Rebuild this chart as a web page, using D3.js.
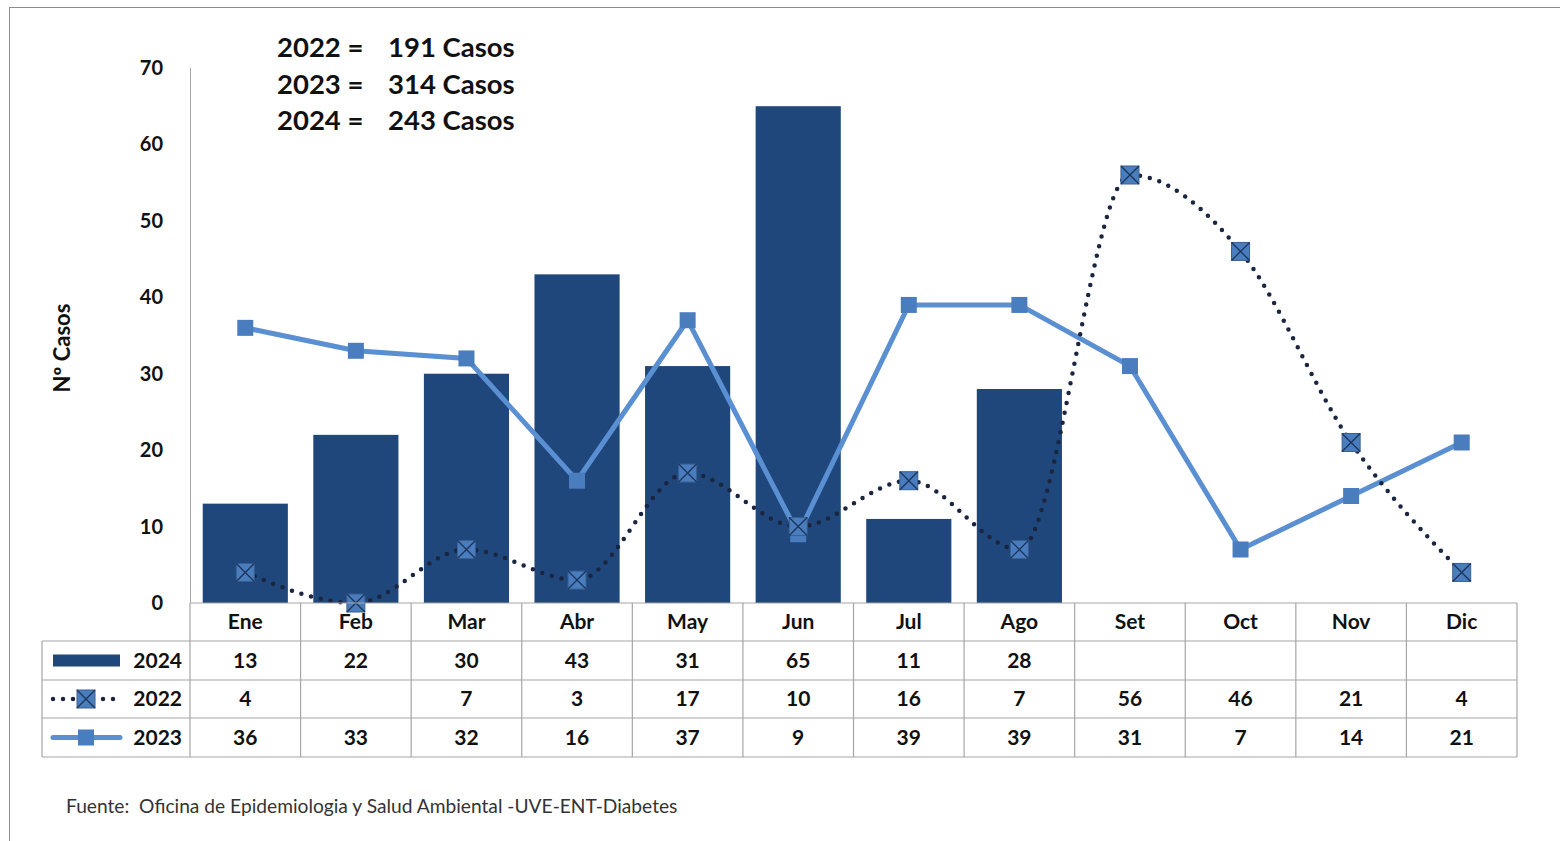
<!DOCTYPE html>
<html><head><meta charset="utf-8">
<script src="https://cdn.jsdelivr.net/npm/d3@7"></script>
<style>body{margin:0;background:#fff;}svg{display:block;font-family:Lato,"Open Sans",sans-serif;}text{white-space:pre;}</style>
</head><body>
<svg id="c" width="1560" height="841"></svg>
<script>
const months = ["Ene","Feb","Mar","Abr","May","Jun","Jul","Ago","Set","Oct","Nov","Dic"];
const v2024 = [13,22,30,43,31,65,11,28,null,null,null,null];
const v2022 = [4,0,7,3,17,10,16,7,56,46,21,4];
const v2022Labels = ["4","","7","3","17","10","16","7","56","46","21","4"];
const v2023 = [36,33,32,16,37,9,39,39,31,7,14,21];
const yTicks = [0,10,20,30,40,50,60,70];
const totals = [["2022 =","191 Casos"],["2023 =","314 Casos"],["2024 =","243 Casos"]];
const source = "Fuente:  Oficina de Epidemiologia y Salud Ambiental -UVE-ENT-Diabetes";

const svg = d3.select("#c");
const barColor = "#1f477b", c2023 = "#5a8fd2", mk = "#4a7dbd", dotC = "#1a2540", grid = "#a6a6a6";
const x0 = 190, x1 = 1517, yTop = 68, yBot = 603;
const x = d3.scaleBand().domain(months).range([x0, x1]).paddingInner(0.23).paddingOuter(0.115);
const xc = m => x(m) + x.bandwidth()/2;
const y = d3.scaleLinear().domain([0,70]).range([yBot, yTop]);

// frame
svg.append("rect").attr("x",9.5).attr("y",7.5).attr("width",1560).attr("height",840).attr("fill","none").attr("stroke","#8c8c8c").attr("stroke-width",1);

// y axis
svg.append("line").attr("x1",x0+0.5).attr("x2",x0+0.5).attr("y1",y(70)).attr("y2",yBot).attr("stroke",grid);
svg.selectAll(".yt").data(yTicks).join("text").attr("x",163).attr("y",d=>y(d)).attr("dy","0.35em")
  .attr("text-anchor","end").attr("font-size",20).attr("font-weight","bold").attr("fill","#111").text(d=>d);
svg.append("text").attr("transform",`translate(70,348) rotate(-90)`).attr("text-anchor","middle")
  .attr("font-size",22).attr("font-weight","bold").attr("fill","#111").text("Nº Casos");

// bars
svg.selectAll(".bar").data(months.map((m,i)=>({m,v:v2024[i]})).filter(d=>d.v!=null)).join("rect")
  .attr("x",d=>x(d.m)).attr("width",x.bandwidth()).attr("y",d=>y(d.v)).attr("height",d=>yBot-y(d.v)).attr("fill",barColor);

// 2023 line
const d23 = months.map((m,i)=>({m,v:v2023[i]}));
svg.append("path").datum(d23).attr("fill","none").attr("stroke",c2023).attr("stroke-width",5)
  .attr("d",d3.line().x(d=>xc(d.m)).y(d=>y(d.v)));

// 2022 smoothed dotted line
const d22 = months.map((m,i)=>({m,v:v2022[i]}));
svg.append("path").datum(d22).attr("fill","none").attr("stroke",dotC).attr("stroke-width",4.5)
  .attr("stroke-linecap","round").attr("stroke-dasharray","0 10")
  .attr("d",d3.line().curve(d3.curveMonotoneX).x(d=>xc(d.m)).y(d=>y(d.v)));

// markers
function sq(g,cx,cy){g.append("rect").attr("x",cx-8).attr("y",cy-8).attr("width",16).attr("height",16).attr("fill",mk);}
function xm(g,cx,cy){
  g.append("rect").attr("x",cx-9).attr("y",cy-9).attr("width",18).attr("height",18).attr("fill",mk).attr("stroke","#3a5f90").attr("stroke-width",1);
  g.append("path").attr("d",`M${cx-9},${cy-9}L${cx+9},${cy+9}M${cx+9},${cy-9}L${cx-9},${cy+9}`).attr("stroke","#1c355c").attr("stroke-width",1.3);
}
const mg = svg.append("g");
d23.forEach(d=>sq(mg,xc(d.m),y(d.v)));
d22.forEach(d=>xm(mg,xc(d.m),y(d.v)));

// totals text
const tg = svg.append("g").attr("font-size",27.5).attr("font-weight","bold").attr("fill","#111");
totals.forEach((t,i)=>{
  tg.append("text").attr("x",277).attr("y",57+i*36.5).text(t[0]);
  tg.append("text").attr("x",388).attr("y",57+i*36.5).text(t[1]);
});

// data table
const rows = [603,641,680,718,757];
const lx = 42;
const tb = svg.append("g").attr("stroke",grid).attr("stroke-width",1.2);
tb.append("line").attr("x1",x0).attr("x2",x1).attr("y1",rows[0]).attr("y2",rows[0]);
for(let r=1;r<rows.length;r++) tb.append("line").attr("x1",lx).attr("x2",x1).attr("y1",rows[r]).attr("y2",rows[r]);
tb.append("line").attr("x1",lx).attr("x2",lx).attr("y1",rows[1]).attr("y2",rows[4]);
const bounds = months.map(m=>x(m)-x.step()*x.paddingInner()/2);
bounds.push(x1);
bounds.forEach(b=>tb.append("line").attr("x1",b).attr("x2",b).attr("y1",rows[0]).attr("y2",rows[4]));

const tt = svg.append("g").attr("font-size",21).attr("font-weight","bold").attr("fill","#111").attr("text-anchor","middle");
const rowMid = i => (rows[i]+rows[i+1])/2;
months.forEach((m,i)=>{
  tt.append("text").attr("x",xc(m)).attr("y",rowMid(0)).attr("dy","0.35em").text(m);
  tt.append("text").attr("x",xc(m)).attr("y",rowMid(1)).attr("dy","0.35em").text(v2024[i]==null?"":v2024[i]);
  tt.append("text").attr("x",xc(m)).attr("y",rowMid(2)).attr("dy","0.35em").text(v2022Labels[i]);
  tt.append("text").attr("x",xc(m)).attr("y",rowMid(3)).attr("dy","0.35em").text(v2023[i]);
});
// legend keys
const lk = svg.append("g");
lk.append("rect").attr("x",53).attr("y",rowMid(1)-6).attr("width",67).attr("height",12).attr("fill",barColor);
lk.append("line").attr("x1",53).attr("x2",120).attr("y1",rowMid(2)).attr("y2",rowMid(2)).attr("stroke",dotC)
  .attr("stroke-width",4.5).attr("stroke-linecap","round").attr("stroke-dasharray","0 10");
xm(lk,86,rowMid(2));
lk.append("line").attr("x1",53).attr("x2",120).attr("y1",rowMid(3)).attr("y2",rowMid(3)).attr("stroke",c2023)
  .attr("stroke-width",5).attr("stroke-linecap","round");
sq(lk,86,rowMid(3));
const ll = svg.append("g").attr("font-size",21).attr("font-weight","bold").attr("fill","#111").attr("text-anchor","end");
["2024","2022","2023"].forEach((s,i)=>ll.append("text").attr("x",182).attr("y",rowMid(i+1)).attr("dy","0.35em").text(s));

// source
svg.append("text").attr("x",66).attr("y",813).attr("font-size",19.2).attr("fill","#333").text(source);
</script>
</body></html>
